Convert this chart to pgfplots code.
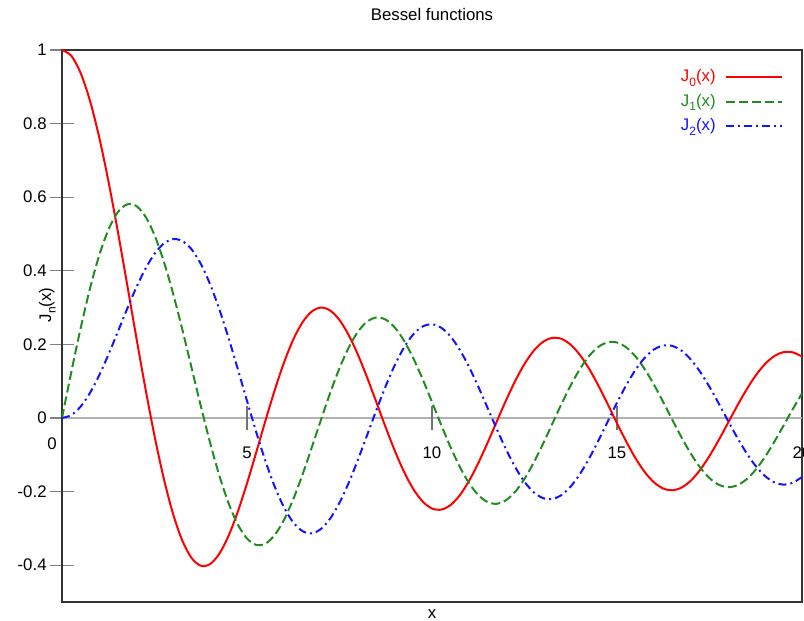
\documentclass[border=0pt]{standalone}
\usepackage{pgfplots}
\pgfplotsset{compat=1.18}
\usepackage{pgfplotstable}
\usepackage{fontspec}
\setmainfont{Liberation Sans}
\newcommand\fs{\fontsize{8.4}{10}\selectfont}
\newcommand\Jx[1]{J\raisebox{-0.5ex}{\fontsize{6}{6}\selectfont #1}(x)}
\definecolor{jred}{RGB}{255,0,0}
\definecolor{jgreen}{RGB}{34,139,34}
\definecolor{jblue}{RGB}{20,20,255}

% J0, J1, J2 every 0.25
\pgfplotstableread{
x j0 j1 j2
0 1.00000 0.00000 0.00000
0.25 0.98438 0.12401 0.00778
0.5 0.93847 0.24227 0.03060
0.75 0.86420 0.34921 0.06703
1 0.76520 0.44005 0.11490
1.25 0.64588 0.51058 0.17105
1.5 0.51183 0.55794 0.23209
1.75 0.36903 0.58010 0.29394
2 0.22389 0.57672 0.35283
2.25 0.08278 0.54833 0.40462
2.5 -0.04838 0.49709 0.44606
2.75 -0.16409 0.42594 0.47386
3 -0.26005 0.33906 0.48609
3.25 -0.33270 0.24111 0.48108
3.5 -0.38013 0.13738 0.45863
3.75 -0.40135 0.03325 0.41908
4 -0.39715 -0.06604 0.36413
4.25 -0.36916 -0.15552 0.29597
4.5 -0.32054 -0.23106 0.21785
4.75 -0.25510 -0.28914 0.13336
5 -0.17760 -0.32758 0.04657
5.25 -0.09309 -0.34497 -0.03833
5.5 -0.00684 -0.34144 -0.11732
5.75 0.07595 -0.31791 -0.18653
6 0.15065 -0.27668 -0.24287
6.25 0.21305 -0.22070 -0.28367
6.5 0.26009 -0.15384 -0.30743
6.75 0.28941 -0.08032 -0.31321
7 0.30008 -0.00468 -0.30142
7.25 0.29196 0.06856 -0.27305
7.5 0.26634 0.13525 -0.23027
7.75 0.22521 0.19157 -0.17577
8 0.17165 0.23464 -0.11299
8.25 0.10920 0.26216 -0.04565
8.5 0.04194 0.27312 0.02232
8.75 -0.02593 0.26718 0.08700
9 -0.09033 0.24531 0.14485
9.25 -0.14738 0.20912 0.19260
9.5 -0.19393 0.16126 0.22787
9.75 -0.22730 0.10483 0.24880
10 -0.24594 0.04347 0.25463
10.25 -0.24894 -0.01902 0.24523
10.5 -0.23665 -0.07887 0.22163
10.75 -0.21004 -0.13246 0.18540
11 -0.17119 -0.17679 0.13905
11.25 -0.12265 -0.20929 0.08544
11.5 -0.06766 -0.22838 0.02794
11.75 -0.00968 -0.23305 -0.02999
12 0.04769 -0.22345 -0.08493
12.25 0.10091 -0.20033 -0.13362
12.5 0.14688 -0.16548 -0.17336
12.75 0.18285 -0.12116 -0.20186
13 0.20693 -0.07032 -0.21774
13.25 0.21773 -0.01612 -0.22016
13.5 0.21499 0.03806 -0.20935
13.75 0.19899 0.08892 -0.18606
14 0.17107 0.13345 -0.15201
14.25 0.13306 0.16890 -0.10935
14.5 0.08755 0.19343 -0.06087
14.75 0.03739 0.20565 -0.00951
15 -0.01422 0.20510 0.04157
15.25 -0.06409 0.19191 0.08926
15.5 -0.10923 0.16721 0.13081
15.75 -0.14687 0.13259 0.16371
16 -0.17490 0.09040 0.18620
16.25 -0.19165 0.04328 0.19698
16.5 -0.19638 -0.00577 0.19568
16.75 -0.18886 -0.05372 0.18245
17 -0.16985 -0.09767 0.15836
17.25 -0.14059 -0.13494 0.12494
17.5 -0.10311 -0.16342 0.08443
17.75 -0.05977 -0.18138 0.03933
18 -0.01336 -0.18799 -0.00753
18.25 0.03324 -0.18288 -0.05328
18.5 0.07716 -0.16663 -0.09517
18.75 0.11570 -0.14029 -0.13066
19 0.14663 -0.10570 -0.15776
19.25 0.16804 -0.06502 -0.17480
19.5 0.17885 -0.02087 -0.18099
19.75 0.17842 0.02400 -0.17599
20 0.16702 0.06683 -0.16034
}\bessel

\begin{document}
\begin{tikzpicture}
\begin{axis}[
  scale only axis, width=370pt, height=276pt,
  xmin=0, xmax=20, ymin=-0.5, ymax=1,
  clip mode=individual,
  xtick={0,5,10,15,20}, xticklabels={,5,10,15,20},
  ytick={-0.4,-0.2,0,0.2,0.4,0.6,0.8,1},
  ytick pos=left,
  x tick style={draw=none},
  y tick style={draw=black!50, line width=0.6pt},
  tick align=center, major tick length=12pt,
  /pgf/number format/assume math mode=true,
  tick label style={font=\fs},
  xticklabel style={anchor=center, yshift=80.5pt},
  yticklabel style={anchor=east, inner sep=0pt, xshift=-1.5pt},
  axis line style={black!80, line width=0.75pt},
  title={Bessel functions},
  title style={font=\fs, at={(0.5,1)}, anchor=center, yshift=11.5pt},
  xlabel={x},
  xlabel style={font=\fs, at={(axis description cs:0.5,0)}, anchor=center, yshift=-6pt},
  ylabel={\Jx{n}},
  ylabel style={font=\fs, at={(axis description cs:-0.02,0.538)}, anchor=center},
  legend style={draw=none, fill=none, at={(1,1)}, anchor=north east,
    xshift=-6.5pt, yshift=-6pt, font=\fs, row sep=1.75pt,
    nodes={inner sep=1.5pt}, cells={anchor=east}},
  legend plot pos=right,
  legend image code/.code={\path (0pt,0pt); \draw[#1, line width=1pt] (3pt,0pt) -- (31pt,0pt);},
]
\draw[black!30, line width=0.75pt] (axis cs:0,0) -- (axis cs:20,0);
\pgfplotsinvokeforeach{5,10,15}{
  \draw[black!55, line width=0.75pt] (axis cs:#1,-0.033) -- (axis cs:#1,0.033);
}
\node[font=\fs, xshift=-5pt, yshift=-13pt] at (axis cs:0,0) {0};

\addplot[jred, line width=1pt, smooth] table[x=x, y=j0] {\bessel};
\addlegendentry{\textcolor{jred}{\Jx{0}}}
\addplot[jgreen, line width=1pt, smooth, dash pattern=on 4.5pt off 2pt] table[x=x, y=j1] {\bessel};
\addlegendentry{\textcolor{jgreen}{\Jx{1}}}
\addplot[jblue, line width=1pt, smooth, dash pattern=on 4pt off 2pt on 1pt off 2pt] table[x=x, y=j2] {\bessel};
\addlegendentry{\textcolor{jblue}{\Jx{2}}}
\end{axis}
\pgfresetboundingbox
\path ([shift={(-31pt,-9.5pt)}]current axis.south west) rectangle ([shift={(1pt,25pt)}]current axis.north east);
\end{tikzpicture}
\end{document}
